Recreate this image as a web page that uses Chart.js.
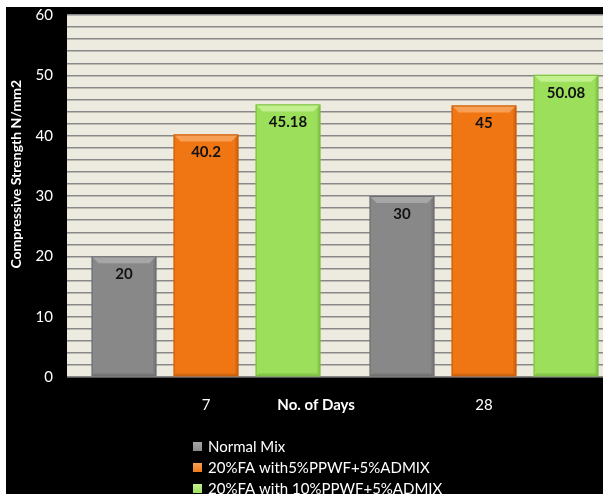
<!DOCTYPE html>
<html>
<head>
<meta charset="utf-8">
<script src="https://cdn.jsdelivr.net/npm/chart.js@4.4.1/dist/chart.umd.min.js"></script>
<style>
  html, body { margin: 0; padding: 0; background: #ffffff; overflow: hidden; }
  #wrap { position: absolute; left: 6px; top: 7px; width: 640px; height: 520px; background: #000000; overflow: hidden; }
  #c { position: absolute; left: 0; top: -15px; display: block; }
</style>
</head>
<body>
<div id="wrap"><canvas id="c" width="640" height="528"></canvas></div>
<script>
// Compressive strength by curing age
const days = ['7', '28'];
const normalMix = [20, 30];
const fa5ppwf = [40.2, 45];
const fa10ppwf = [45.18, 50.08];
const seriesNames = ['Normal Mix', '20%FA with5%PPWF+5%ADMIX', '20%FA with 10%PPWF+5%ADMIX'];
const yTicks = [0, 10, 20, 30, 40, 50, 60];
const yTitle = 'Compressive Strength N/mm2';
const xTitle = 'No. of Days';

const FONT = 'Lato, "Open Sans", sans-serif';
const fills = ['#888888', '#F07614', '#9BDF5A'];
const edges = ['#6c6c6c', '#c45a0a', '#79bd3c'];
const bevels = ['#a6a6a6', '#f7a055', '#c2f08f'];

// Plot background
const plotBg = {
  id: 'plotBg',
  beforeDraw(chart) {
    const { ctx, chartArea: a } = chart;
    ctx.save();
    ctx.fillStyle = '#EDEBE0';
    ctx.fillRect(a.left, a.top, a.right - a.left, a.bottom - a.top);
    ctx.restore();
  }
};

// Bevelled bar edges and value labels on every bar
const barDeco = {
  id: 'barDeco',
  afterDatasetsDraw(chart) {
    const { ctx } = chart;
    chart.data.datasets.forEach((ds, di) => {
      const meta = chart.getDatasetMeta(di);
      meta.data.forEach((bar, i) => {
        const left = bar.x - bar.width / 2, right = bar.x + bar.width / 2;
        const top = bar.y, bottom = bar.base;
        const b = 7;
        ctx.save();
        // top bevel
        ctx.fillStyle = bevels[di];
        ctx.beginPath();
        ctx.moveTo(left, top); ctx.lineTo(right, top);
        ctx.lineTo(right - b, top + b); ctx.lineTo(left + b, top + b);
        ctx.closePath(); ctx.fill();
        // side shading
        ctx.fillStyle = 'rgba(0,0,0,0.10)';
        ctx.beginPath();
        ctx.moveTo(right, top); ctx.lineTo(right, bottom);
        ctx.lineTo(right - 3, bottom - 3); ctx.lineTo(right - 3, top + 3);
        ctx.closePath(); ctx.fill();
        ctx.beginPath();
        ctx.moveTo(left, bottom); ctx.lineTo(right, bottom);
        ctx.lineTo(right - 3, bottom - 3); ctx.lineTo(left + 3, bottom - 3);
        ctx.closePath(); ctx.fill();
        ctx.strokeStyle = edges[di];
        ctx.lineWidth = 1;
        ctx.strokeRect(left + 0.5, top + 0.5, bar.width - 1, bottom - top - 1);
        // value label
        ctx.fillStyle = '#111111';
        ctx.font = 'bold 15px ' + FONT;
        ctx.textAlign = 'center';
        ctx.textBaseline = 'middle';
        ctx.fillText(String(ds.data[i]), bar.x, top + 18);
        ctx.restore();
      });
    });
  }
};

// Axis titles and stacked legend
const extras = {
  id: 'extras',
  afterDraw(chart) {
    const { ctx, chartArea: a } = chart;
    ctx.save();
    ctx.fillStyle = '#ffffff';
    ctx.textAlign = 'center';
    ctx.textBaseline = 'middle';
    // value axis title
    ctx.save();
    ctx.translate(10, a.top + (a.bottom - a.top) * 0.44);
    ctx.rotate(-Math.PI / 2);
    ctx.font = 'bold 14px ' + FONT;
    ctx.fillText(yTitle, 0, 0);
    ctx.restore();
    // category axis title
    ctx.font = 'bold 15px ' + FONT;
    ctx.fillText(xTitle, a.left + (a.right - a.left) * 0.448, a.bottom + 28);
    // legend rows
    ctx.font = '15px ' + FONT;
    ctx.textAlign = 'left';
    chart.data.datasets.forEach((ds, di) => {
      const y = a.bottom + 70 + di * 21;
      const x = 187;
      const g = ctx.createLinearGradient(0, y - 5, 0, y + 5);
      g.addColorStop(0, bevels[di]);
      g.addColorStop(1, fills[di]);
      ctx.fillStyle = g;
      ctx.fillRect(x, y - 5, 9, 9);
      ctx.fillStyle = '#ffffff';
      ctx.fillText(ds.label, x + 15, y);
    });
    ctx.restore();
  }
};

new Chart(document.getElementById('c'), {
  type: 'bar',
  data: {
    labels: days,
    datasets: [
      { label: seriesNames[0], data: normalMix, backgroundColor: fills[0] },
      { label: seriesNames[1], data: fa5ppwf, backgroundColor: fills[1] },
      { label: seriesNames[2], data: fa10ppwf, backgroundColor: fills[2] }
    ]
  },
  options: {
    responsive: false,
    animation: false,
    devicePixelRatio: 1,
    layout: { padding: { top: 0, left: 0, right: 23, bottom: 0 } },
    datasets: { bar: { categoryPercentage: 0.885, barPercentage: 0.79, borderWidth: 0 } },
    plugins: { legend: { display: false }, tooltip: { enabled: false } },
    scales: {
      x: {
        grid: { display: false, drawTicks: false },
        border: { display: true, color: '#555555', width: 1 },
        ticks: { color: '#ffffff', font: { family: FONT, size: 15 }, padding: 19 },
        afterFit(s) { s.height = 143; }
      },
      y: {
        min: 0, max: 60,
        afterBuildTicks(s) {
          const t = [];
          for (let v = 0; v <= 60; v += 2) t.push({ value: v });
          s.ticks = t;
        },
        grid: { color: '#888888', lineWidth: 1.4, drawTicks: false },
        border: { display: false },
        ticks: {
          color: '#ffffff',
          font: { family: FONT, size: 15 },
          padding: 14,
          autoSkip: false,
          callback: (v) => (yTicks.includes(v) ? String(v) : '')
        },
        afterFit(s) { s.width = 61; }
      }
    }
  },
  plugins: [plotBg, barDeco, extras]
});
</script>
</body>
</html>
